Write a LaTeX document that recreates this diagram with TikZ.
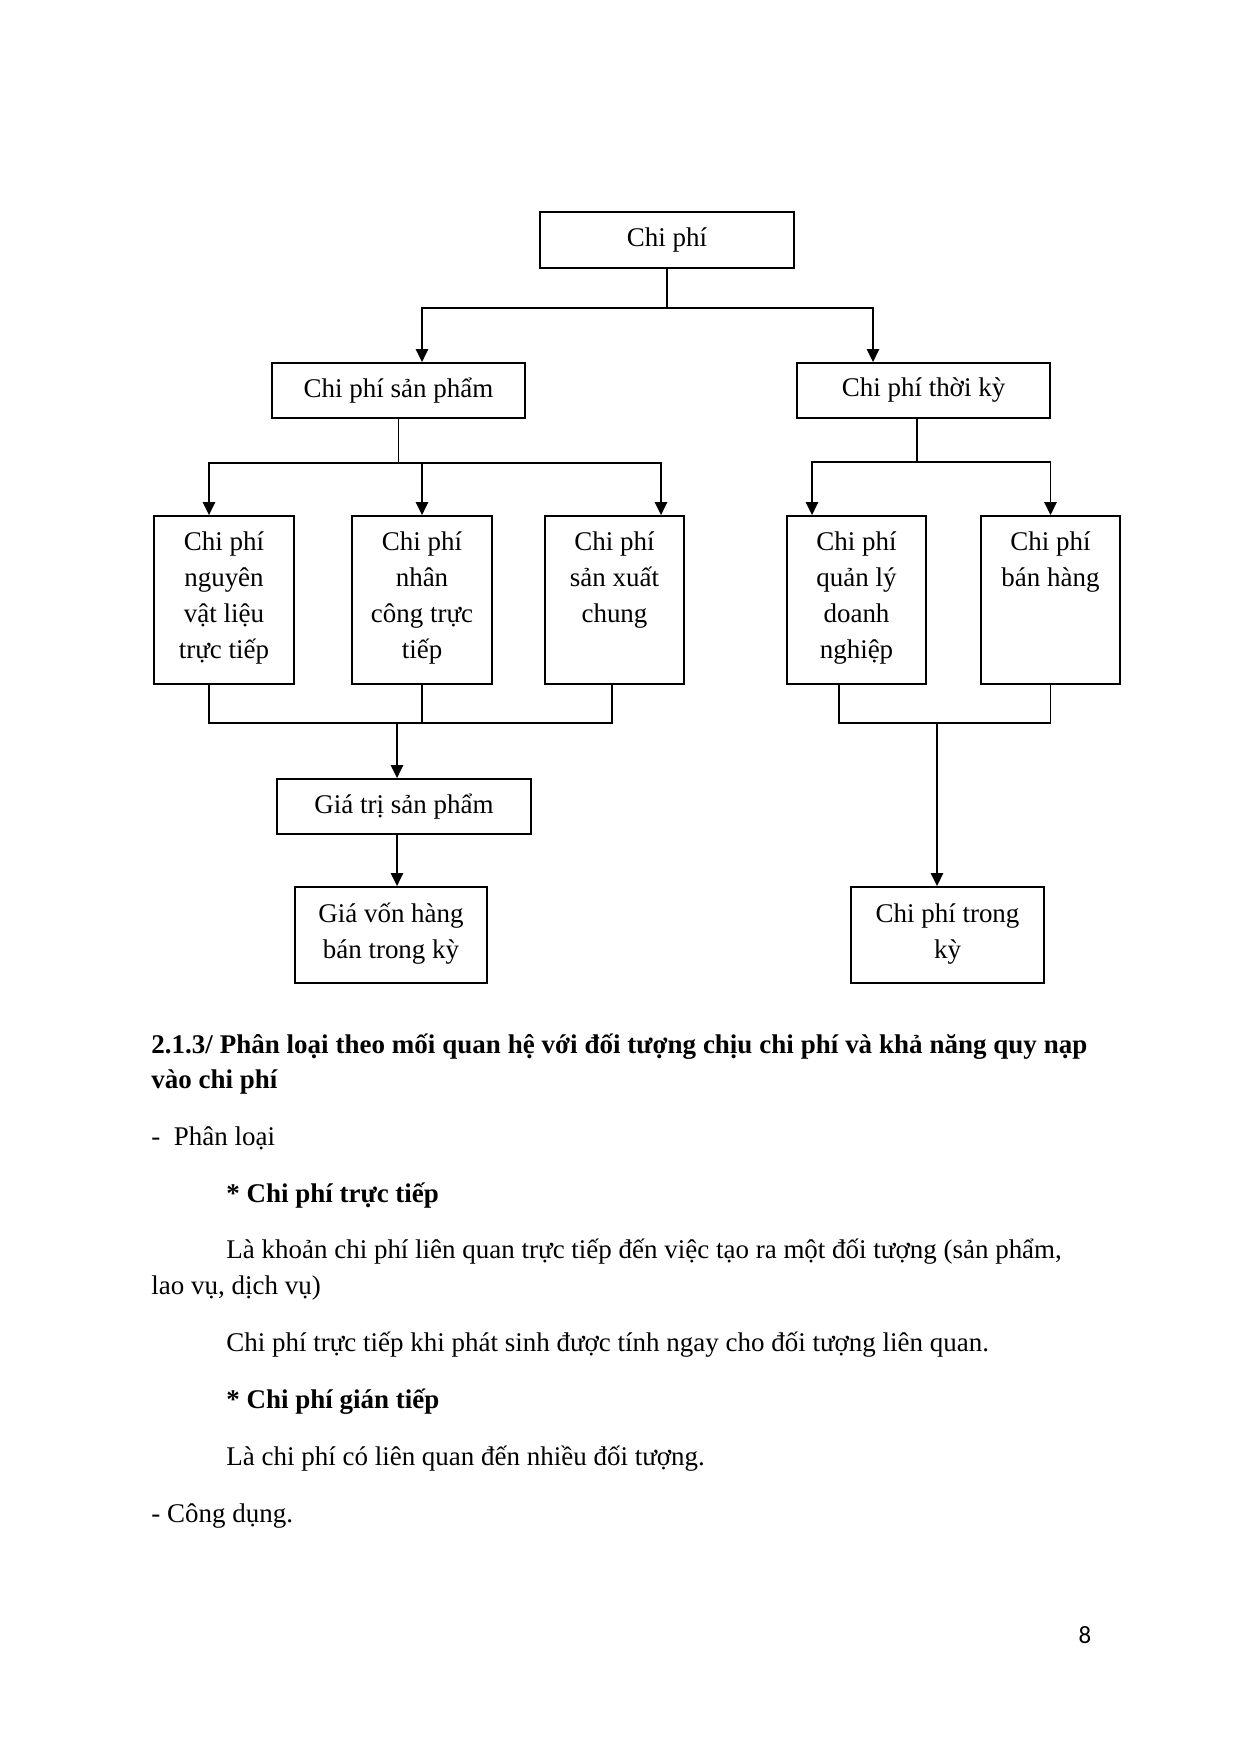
\documentclass[tikz,border=0pt]{standalone}
\usepackage{fontspec}
\setmainfont{Liberation Serif}
\newfontfamily\pagenumfont{Carlito}
\usetikzlibrary{arrows.meta,calc}
\newdimen\pxu \pxu=0.16935mm
\newcommand\fs{\fontsize{13pt}{17.35pt}\selectfont}
\tikzset{
  box/.style={draw, line width=0.9pt, inner sep=0pt, font=\fs},
  conn/.style={line width=0.8pt},
  thinln/.style={line width=0.6pt},
  arr/.style={conn, -{Triangle[length=2.2mm,width=2.1mm]}},
  txt/.style={inner sep=0pt, font=\fs},
  boldtxt/.style={inner sep=0pt, font=\fs\bfseries},
}
\begin{document}
\begin{tikzpicture}[x=0.16935mm, y=-0.16935mm]
\path[use as bounding box] (0,0) rectangle (1240,1753);

% boxes
\node[box, minimum width=254\pxu, minimum height=56\pxu] (root) at (667,240) {Chi phí};
\node[box, minimum width=253\pxu, minimum height=55\pxu] (sp) at (398.5,390.5) {Chi phí sản phẩm};
\node[box, minimum width=253\pxu, minimum height=55\pxu] (tk) at (923.5,390.5) {Chi phí thời kỳ};

\node[box, minimum width=140\pxu, minimum height=168\pxu] (n1) at (224,600) {};
\node[box, minimum width=140\pxu, minimum height=168\pxu] (n2) at (422,600) {};
\node[box, minimum width=139\pxu, minimum height=168\pxu] (n3) at (614.5,600) {};
\node[box, minimum width=139\pxu, minimum height=168\pxu] (n4) at (856.5,600) {};
\node[box, minimum width=139\pxu, minimum height=168\pxu] (n5) at (1050.5,600) {};

\node[box, minimum width=253.5\pxu, minimum height=55\pxu] (gtsp) at (404,806.5) {Giá trị sản phẩm};
\node[box, minimum width=192.5\pxu, minimum height=96\pxu] (gv) at (391,935) {};
\node[box, minimum width=193\pxu, minimum height=96\pxu] (cp) at (947.5,935) {};

% box texts
\node[txt, anchor=north, align=center] (n1t) at ($(n1.north)+(0,9.5)$) {\strut Chi phí\\nguyên\\vật liệu\\trực tiếp};
\node[txt, anchor=north, align=center] (n2t) at ($(n2.north)+(0,9.5)$) {\strut Chi phí\\nhân\\công trực\\tiếp};
\node[txt, anchor=north, align=center] (n3t) at ($(n3.north)+(0,9.5)$) {\strut Chi phí\\sản xuất\\chung};
\node[txt, anchor=north, align=center] (n4t) at ($(n4.north)+(0,9.5)$) {\strut Chi phí\\quản lý\\doanh\\nghiệp};
\node[txt, anchor=north, align=center] (n5t) at ($(n5.north)+(0,9.5)$) {\strut Chi phí\\bán hàng};
\node[txt, anchor=north, align=center] (gvt) at ($(gv.north)+(0,10.5)$) {\strut Giá vốn hàng\\bán trong kỳ};
\node[txt, anchor=north, align=center] (cpt) at ($(cp.north)+(0,10.5)$) {\strut Chi phí trong\\kỳ};

% connectors level 1
\coordinate (bA) at (667,308);
\draw[conn] (root.south) -- (bA);
\draw[arr] (bA) -| ([xshift=23.5\pxu]sp.north);
\draw[arr] (bA) -| ([xshift=-50.5\pxu]tk.north);

% level 2 left
\coordinate (bB) at (398.5,463);
\draw[thinln] (sp.south) -- (bB);
\draw[arr] (bB) -| ([xshift=-15\pxu]n1.north);
\draw[arr] (bB) -| (n2.north);
\draw[arr] (bB) -| ([xshift=46.5\pxu]n3.north);

% level 2 right
\coordinate (bC) at (917,462);
\draw[thinln] (bC |- tk.south) -- (bC);
\draw[arr] (bC) -| ([xshift=-44.5\pxu]n4.north);
\draw[arr] (bC) -| (n5.north);

% bottom left
\coordinate (bD) at (397,723);
\draw[conn] ([xshift=-15\pxu]n1.south) |- (bD);
\draw[conn] ([xshift=-2.5\pxu]n3.south) |- (bD);
\draw[thinln] (n2.south) -- (n2.south |- bD);
\draw[arr] (bD) -- (bD |- gtsp.north);
\draw[arr] (bD |- gtsp.south) -- (bD |- gv.north);

% bottom right
\coordinate (bE) at (937,723);
\draw[conn] ([xshift=-17.5\pxu]n4.south) |- (bE);
\draw[conn] (n5.south) |- (bE);
\draw[arr] (bE) -- (bE |- cp.north);

% body text
\node[boldtxt, anchor=base west] (h1) at (151,1053) {\makebox[936\pxu][s]{2.1.3/ Phân loại theo mối quan hệ với đối tượng chịu chi phí và khả năng quy nạp}};
\node[boldtxt, anchor=base west] (h2) at (151,1088) {vào chi phí};
\node[txt, anchor=base west] (pl) at (151,1145) {-\ \ Phân loại};
\node[boldtxt, anchor=base west] (s1) at (226,1202) {* Chi phí trực tiếp};
\node[txt, anchor=base west] (p1) at (226,1258) {Là khoản chi phí liên quan trực tiếp đến việc tạo ra một đối tượng (sản phẩm,};
\node[txt, anchor=base west] (p1b) at (151,1294) {lao vụ, dịch vụ)};
\node[txt, anchor=base west] (p2) at (226,1351) {Chi phí trực tiếp khi phát sinh được tính ngay cho đối tượng liên quan.};
\node[boldtxt, anchor=base west] (s2) at (226,1408) {* Chi phí gián tiếp};
\node[txt, anchor=base west] (p3) at (226,1465) {Là chi phí có liên quan đến nhiều đối tượng.};
\node[txt, anchor=base west] (cd) at (151,1522) {- Công dụng.};

\node[inner sep=0pt, anchor=base, font=\pagenumfont\fontsize{12pt}{14pt}\selectfont] (pg) at (1085,1643) {8};
\end{tikzpicture}
\end{document}
